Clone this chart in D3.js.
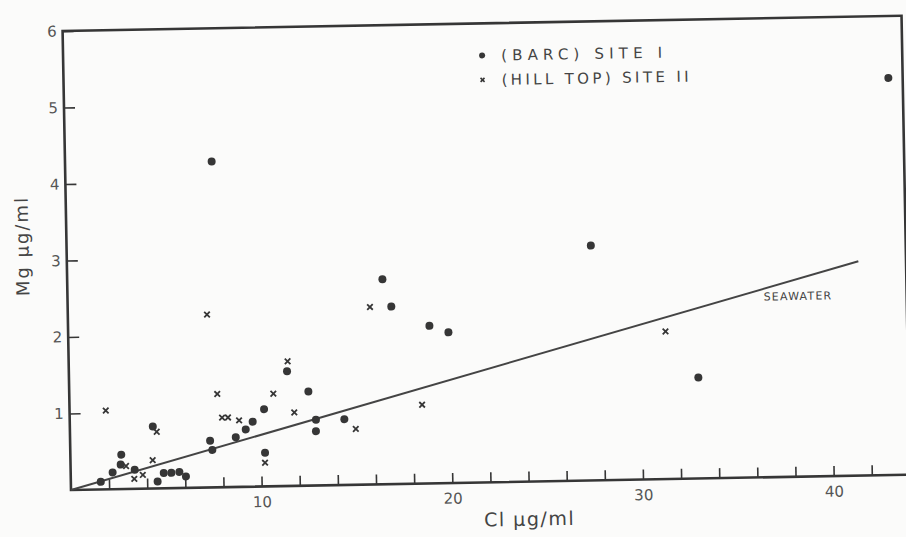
<!DOCTYPE html>
<html>
<head>
<meta charset="utf-8">
<script src="https://cdn.jsdelivr.net/npm/d3@7"></script>
<style>
  body { margin: 0; background: #fbfbfa; }
  svg { display: block; font-family: "DejaVu Sans", sans-serif; }
</style>
</head>
<body>
<svg id="chart"></svg>
<script>
// Site I (BARC) — Cl vs Mg, µg/ml
const siteICl = [1.57, 2.20, 2.67, 2.63, 3.36, 4.55, 4.88, 5.28, 5.70, 6.04, 4.35, 7.34, 7.45, 8.69, 9.22, 9.59,
  10.2, 10.21, 11.44, 12.54, 12.91, 12.9, 14.4, 16.53, 16.97, 18.95, 19.94, 27.49, 33.0, 43.25, 7.69];
const siteIMg = [0.10, 0.22, 0.45, 0.32, 0.25, 0.09, 0.20, 0.20, 0.21, 0.15, 0.81, 0.61, 0.49, 0.65, 0.75, 0.85,
  1.01, 0.44, 1.50, 1.23, 0.86, 0.71, 0.86, 2.68, 2.32, 2.06, 1.97, 3.07, 1.32, 5.19, 4.26];

// Site II (Hill Top)
const siteIICl = [1.90, 2.91, 3.33, 3.78, 4.55, 4.31, 7.30, 7.76, 7.99, 8.30, 8.88, 10.2, 10.70, 11.48, 11.78,
  14.99, 15.85, 18.49, 31.32];
const siteIIMg = [1.03, 0.30, 0.13, 0.18, 0.74, 0.37, 2.26, 1.22, 0.91, 0.91, 0.87, 0.31, 1.21, 1.63, 0.96,
  0.73, 2.32, 1.03, 1.93];

// seawater ratio line
const seawaterCl = [0, 41.5];
const seawaterMg = [0, 2.8];

const xTicks = d3.range(2, 44, 2);
const xLabels = [10, 20, 30, 40];
const yTicks = [1, 2, 3, 4, 5, 6];

const legendNames = ["(BARC) SITE I", "(HILL TOP) SITE II"];

const width = 906, height = 537;
const ink = "#363636";

const svg = d3.select("#chart")
    .attr("width", width)
    .attr("height", height)
    .attr("viewBox", [0, 0, width, height]);

svg.append("rect").attr("width", width).attr("height", height).attr("fill", "#fbfbfa");

const x = d3.scaleLinear().domain([0, 44]).range([71, 71 + 44 * 19.07]);
const y = d3.scaleLinear().domain([0, 6]).range([490, 490 - 6 * 76.5]);

// the scan is slightly tilted
const g = svg.append("g").attr("transform", `rotate(-1.05, ${x(0)}, ${y(0)})`);

// x axis, ticks pointing inward
g.append("g")
    .attr("transform", `translate(0,${y(0)})`)
    .call(d3.axisBottom(x).tickValues(xTicks).tickSizeInner(-10).tickSizeOuter(0).tickPadding(10)
      .tickFormat(d => xLabels.includes(d) ? d : ""))
    .call(g => g.select(".domain").remove())
    .call(g => g.selectAll(".tick line").attr("stroke", ink).attr("stroke-width", 1.6))
    .call(g => g.selectAll(".tick text").attr("fill", "#555").attr("font-size", 15).attr("font-family", "DejaVu Sans"));

// y axis
g.append("g")
    .attr("transform", `translate(${x(0)},0)`)
    .call(d3.axisLeft(y).tickValues(yTicks).tickFormat(d3.format("d"))
      .tickSizeInner(-11).tickSizeOuter(0).tickPadding(6))
    .call(g => g.select(".domain").remove())
    .call(g => g.selectAll(".tick line").attr("stroke", ink).attr("stroke-width", 1.6))
    .call(g => g.selectAll(".tick text").attr("fill", "#555").attr("font-size", 15).attr("font-family", "DejaVu Sans"));

// frame
g.append("rect")
    .attr("x", x(0)).attr("y", y(6))
    .attr("width", x(44) - x(0)).attr("height", y(0) - y(6))
    .attr("fill", "none").attr("stroke", ink).attr("stroke-width", 2.6);

// seawater line
g.append("path")
    .attr("fill", "none")
    .attr("stroke", "#444")
    .attr("stroke-width", 2)
    .attr("d", d3.line().x(i => x(seawaterCl[i])).y(i => y(seawaterMg[i]))(d3.range(seawaterCl.length)));

g.append("text")
    .attr("x", x(36.5)).attr("y", y(2.31))
    .attr("font-size", 11).attr("letter-spacing", 1.2)
    .attr("fill", "#444")
    .text("SEAWATER");

const cross = d3.symbol().type(d3.symbolTimes).size(22);

// site I dots
g.append("g").selectAll("circle")
  .data(d3.range(siteICl.length))
  .join("circle")
    .attr("cx", i => x(siteICl[i]))
    .attr("cy", i => y(siteIMg[i]))
    .attr("r", 4)
    .attr("fill", ink);

// site II crosses
g.append("g").selectAll("path")
  .data(d3.range(siteIICl.length))
  .join("path")
    .attr("transform", i => `translate(${x(siteIICl[i])},${y(siteIIMg[i])})`)
    .attr("d", cross)
    .attr("fill", "none")
    .attr("stroke", ink)
    .attr("stroke-width", 1.8);

// legend
const legend = g.append("g").attr("transform", "translate(490,63)");
legend.append("circle").attr("r", 3).attr("fill", ink);
legend.append("path").attr("transform", "translate(0,24.5)").attr("d", d3.symbol().type(d3.symbolTimes).size(12))
    .attr("stroke", ink).attr("stroke-width", 1.6);
legend.selectAll("text")
  .data(legendNames)
  .join("text")
    .attr("x", 19)
    .attr("y", (d, i) => i * 24.5 + 5.5)
    .attr("font-size", 15)
    .attr("fill", "#444")
    .attr("textLength", (d, i) => i === 0 ? 161 : 187)
    .attr("lengthAdjust", "spacing")
    .text(d => d);

// axis titles
g.append("text")
    .attr("transform", `translate(33,${y(3.2)}) rotate(-90)`)
    .attr("text-anchor", "middle")
    .attr("font-size", 18)
    .attr("letter-spacing", 2)
    .attr("fill", "#444")
    .text("Mg µg/ml");

g.append("text")
    .attr("x", 529).attr("y", 534)
    .attr("text-anchor", "middle")
    .attr("font-size", 19)
    .attr("letter-spacing", 1.5)
    .attr("fill", "#444")
    .text("Cl µg/ml");
</script>
</body>
</html>
